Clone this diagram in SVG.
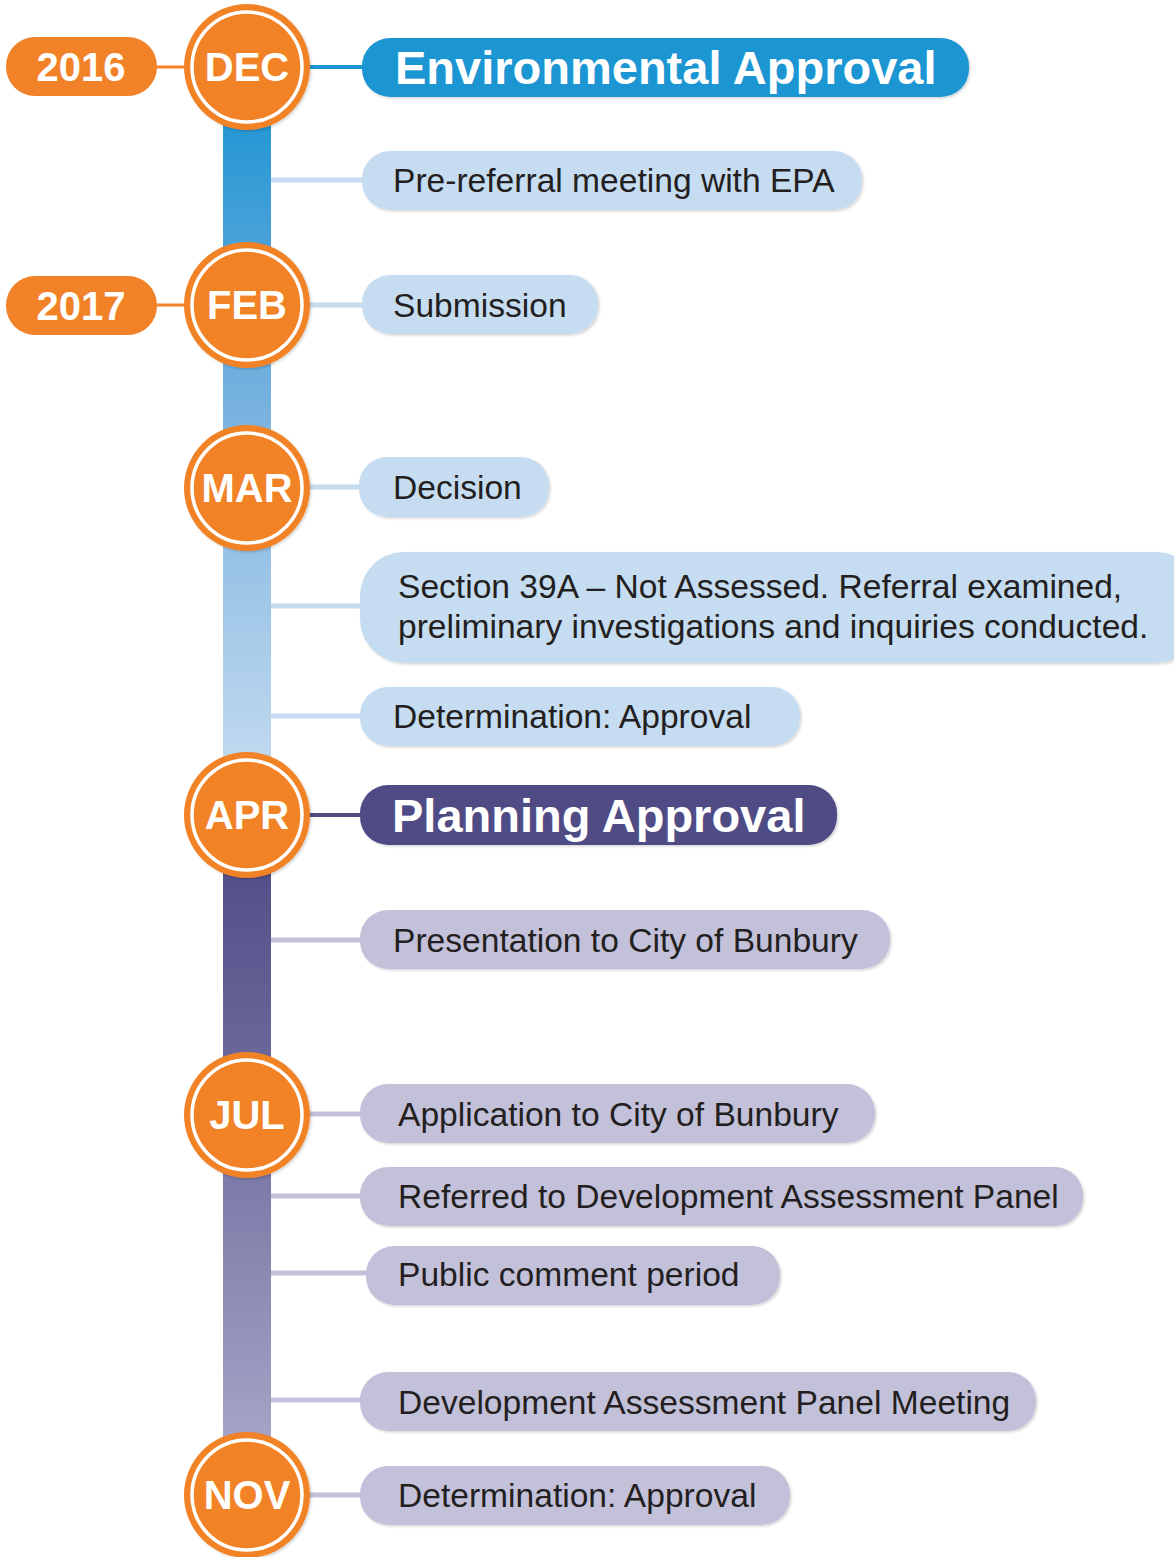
<svg xmlns="http://www.w3.org/2000/svg" width="1174" height="1557" viewBox="0 0 1174 1557">
<defs>
  <linearGradient id="gBlue" x1="0" y1="0" x2="0" y2="1">
    <stop offset="0" stop-color="#1f94d3"/>
    <stop offset="0.45" stop-color="#7ab3df"/>
    <stop offset="1" stop-color="#c8ddf1"/>
  </linearGradient>
  <linearGradient id="gPurple" x1="0" y1="0" x2="0" y2="1">
    <stop offset="0" stop-color="#4f4a84"/>
    <stop offset="0.35" stop-color="#6a669a"/>
    <stop offset="1" stop-color="#aaa8ca"/>
  </linearGradient>
  <filter id="sh" x="-20%" y="-20%" width="150%" height="150%">
    <feDropShadow dx="1.5" dy="1.5" stdDeviation="1.2" flood-color="#000" flood-opacity="0.16"/>
  </filter>
</defs>
<style>
  .yr{fill:#f28227}
  .m{fill:#f28227;filter:url(#sh)}
  .ring{fill:none;stroke:#fff;stroke-width:3.5}
  .mt{font-family:"Liberation Sans",Arial,sans-serif;font-weight:bold;font-size:40px;fill:#fff;text-anchor:middle}
  .big{font-family:"Liberation Sans",Arial,sans-serif;font-weight:bold;font-size:47px;fill:#fff}
  .t{font-family:"Liberation Sans",Arial,sans-serif;font-size:33.6px;fill:#231f20}
  .bb{fill:#c6dcf1;filter:url(#sh)}
  .pb{fill:#c3c1da;filter:url(#sh)}
  .hb{fill:#1f95d3;filter:url(#sh)}
  .hp{fill:#504b85;filter:url(#sh)}
  .cb{stroke:#c6dcf1;stroke-width:5;fill:none}
  .cp{stroke:#c3c1da;stroke-width:5;fill:none}
</style>

<g id="bars">
  <rect x="223" y="100" width="48" height="700" fill="url(#gBlue)"/>
  <rect x="223" y="830" width="48" height="640" fill="url(#gPurple)"/>
</g>

<g id="connectors">
  <line x1="157" y1="67" x2="190" y2="67" stroke="#f28227" stroke-width="3"/>
  <line x1="157" y1="305" x2="190" y2="305" stroke="#f28227" stroke-width="3"/>
  <line x1="300" y1="67" x2="366" y2="67" stroke="#1f95d3" stroke-width="4"/>
  <line x1="271" y1="180" x2="366" y2="180" class="cb"/>
  <line x1="300" y1="305" x2="366" y2="305" class="cb"/>
  <line x1="300" y1="487" x2="363" y2="487" class="cb"/>
  <line x1="271" y1="606" x2="364" y2="606" class="cb"/>
  <line x1="271" y1="716" x2="364" y2="716" class="cb"/>
  <line x1="300" y1="815" x2="364" y2="815" stroke="#504b85" stroke-width="4"/>
  <line x1="271" y1="940" x2="364" y2="940" class="cp"/>
  <line x1="300" y1="1114" x2="364" y2="1114" class="cp"/>
  <line x1="271" y1="1196" x2="364" y2="1196" class="cp"/>
  <line x1="271" y1="1273" x2="370" y2="1273" class="cp"/>
  <line x1="271" y1="1400" x2="364" y2="1400" class="cp"/>
  <line x1="300" y1="1495" x2="364" y2="1495" class="cp"/>
</g>

<g id="year-2016">
  <rect x="6" y="37" width="151" height="59" rx="29" class="yr"/>
  <text x="81" y="81" class="mt">2016</text>
</g>
<g id="year-2017">
  <rect x="6" y="276" width="151" height="59" rx="29" class="yr"/>
  <text x="81" y="320" class="mt">2017</text>
</g>

<g id="dec">
  <circle cx="247" cy="67" r="63" class="m"/>
  <circle cx="247" cy="67" r="55" class="ring"/>
  <text x="247" y="81" class="mt">DEC</text>
</g>
<g id="feb">
  <circle cx="247" cy="305" r="63" class="m"/>
  <circle cx="247" cy="305" r="55" class="ring"/>
  <text x="247" y="319" class="mt">FEB</text>
</g>
<g id="mar">
  <circle cx="247" cy="488" r="63" class="m"/>
  <circle cx="247" cy="488" r="55" class="ring"/>
  <text x="247" y="502" class="mt">MAR</text>
</g>
<g id="apr">
  <circle cx="247" cy="815" r="63" class="m"/>
  <circle cx="247" cy="815" r="55" class="ring"/>
  <text x="247" y="829" class="mt">APR</text>
</g>
<g id="jul">
  <circle cx="247" cy="1115" r="63" class="m"/>
  <circle cx="247" cy="1115" r="55" class="ring"/>
  <text x="247" y="1129" class="mt">JUL</text>
</g>
<g id="nov">
  <circle cx="247" cy="1495" r="63" class="m"/>
  <circle cx="247" cy="1495" r="55" class="ring"/>
  <text x="247" y="1509" class="mt">NOV</text>
</g>

<g id="environmental-approval">
  <rect x="362" y="38" width="607" height="59" rx="28" class="hb"/>
  <text x="395" y="84" class="big">Environmental Approval</text>
</g>
<g id="pre-referral">
  <rect x="362" y="151" width="500" height="59" rx="28" class="bb"/>
  <text x="393" y="192" class="t">Pre-referral meeting with EPA</text>
</g>
<g id="submission">
  <rect x="362" y="275" width="236" height="59" rx="28" class="bb"/>
  <text x="393" y="317" class="t">Submission</text>
</g>
<g id="decision">
  <rect x="359" y="457" width="190" height="60" rx="28" class="bb"/>
  <text x="393" y="499" class="t">Decision</text>
</g>
<g id="section-39a">
  <rect x="360" y="552" width="840" height="111" rx="44" class="bb"/>
  <text x="398" y="598" class="t">Section 39A – Not Assessed. Referral examined,</text>
  <text x="398" y="638" class="t">preliminary investigations and inquiries conducted.</text>
</g>
<g id="determination-1">
  <rect x="360" y="687" width="440" height="59" rx="28" class="bb"/>
  <text x="393" y="728" class="t">Determination: Approval</text>
</g>
<g id="planning-approval">
  <rect x="360" y="785" width="477" height="60" rx="28" class="hp"/>
  <text x="392" y="832" class="big">Planning Approval</text>
</g>
<g id="presentation">
  <rect x="360" y="910" width="530" height="59" rx="28" class="pb"/>
  <text x="393" y="952" class="t">Presentation to City of Bunbury</text>
</g>
<g id="application">
  <rect x="360" y="1084" width="515" height="59" rx="28" class="pb"/>
  <text x="398" y="1126" class="t">Application to City of Bunbury</text>
</g>
<g id="referred">
  <rect x="360" y="1167" width="723" height="59" rx="28" class="pb"/>
  <text x="398" y="1208" class="t">Referred to Development Assessment Panel</text>
</g>
<g id="public-comment">
  <rect x="366" y="1246" width="414" height="59" rx="28" class="pb"/>
  <text x="398" y="1286" class="t">Public comment period</text>
</g>
<g id="dap-meeting">
  <rect x="360" y="1372" width="676" height="59" rx="28" class="pb"/>
  <text x="398" y="1414" class="t">Development Assessment Panel Meeting</text>
</g>
<g id="determination-2">
  <rect x="360" y="1466" width="430" height="59" rx="28" class="pb"/>
  <text x="398" y="1507" class="t">Determination: Approval</text>
</g>
</svg>
